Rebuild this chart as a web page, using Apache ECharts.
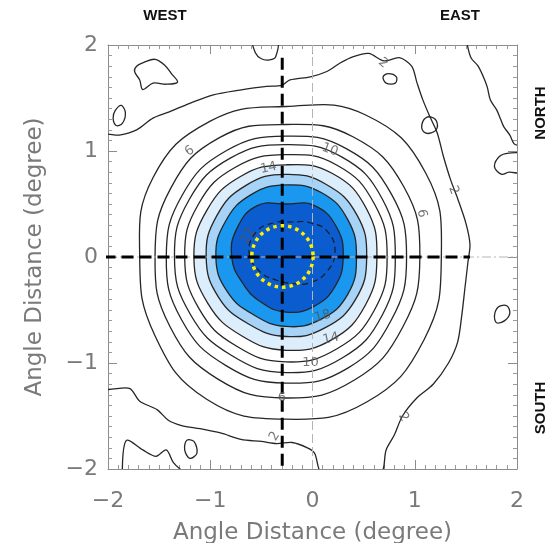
<!DOCTYPE html>
<html><head><meta charset="utf-8">
<script src="https://cdn.jsdelivr.net/npm/echarts@6/dist/echarts.min.js"></script>
<style>html,body{margin:0;padding:0;background:#fff}#c{width:549px;height:543px}</style>
</head><body><div id="c"></div>
<script>
// ---- data ----
const xTicks = [-2, -1, 0, 1, 2];
const yTicks = [-2, -1, 0, 1, 2];
const angles = [0, 30, 60, 90, 120, 150, 180, 210, 240, 270, 300, 330]; // degrees, counter-clockwise from east
const contourCenter = [-0.26, 0.0];
const r4  = [1.52, 1.58, 1.55, 1.42, 1.48, 1.50, 1.43, 1.48, 1.55, 1.53, 1.58, 1.56];
const r6  = [1.31, 1.33, 1.31, 1.25, 1.30, 1.30, 1.28, 1.31, 1.33, 1.33, 1.34, 1.32];
const r8  = [1.18, 1.19, 1.18, 1.14, 1.16, 1.17, 1.17, 1.18, 1.18, 1.19, 1.21, 1.19];
const r10 = [1.07, 1.09, 1.09, 1.06, 1.08, 1.09, 1.09, 1.08, 1.07, 1.09, 1.10, 1.09];
const r12 = [0.99, 1.00, 1.00, 0.965, 0.98, 0.99, 0.99, 0.98, 0.97, 0.99, 1.00, 1.00];
const r14 = [0.89, 0.91, 0.91, 0.87, 0.88, 0.89, 0.90, 0.88, 0.86, 0.88, 0.90, 0.90];
const r16 = [0.79, 0.80, 0.79, 0.78, 0.78, 0.78, 0.78, 0.76, 0.73, 0.75, 0.77, 0.79];
const r18 = [0.69, 0.70, 0.70, 0.68, 0.68, 0.68, 0.685, 0.66, 0.63, 0.655, 0.68, 0.70];
const r20 = [0.56, 0.57, 0.56, 0.50, 0.56, 0.55, 0.53, 0.49, 0.49, 0.52, 0.54, 0.555];
const center22 = [-0.2, 0.04];
const r22 = [0.42, 0.40, 0.33, 0.29, 0.33, 0.40, 0.42, 0.36, 0.30, 0.29, 0.33, 0.38];
const level2 = [[-2.05,1.14],[-1.89,1.15],[-1.72,1.20],[-1.56,1.31],[-1.40,1.37],[-1.20,1.45],[-0.97,1.53],[-0.71,1.575],[-0.45,1.61],[-0.30,1.62],[-0.22,1.67],[-0.02,1.70],[0.14,1.75],[0.27,1.83],[0.40,1.89],[0.55,1.92],[0.70,1.85],[0.85,1.88],[0.97,1.80],[1.02,1.65],[1.08,1.48],[1.15,1.32],[1.22,1.17],[1.28,0.95],[1.35,0.73],[1.42,0.55],[1.50,0.32],[1.54,0.12],[1.52,-0.05],[1.49,-0.30],[1.46,-0.55],[1.42,-0.80],[1.33,-1.00],[1.18,-1.20],[1.02,-1.33],[0.88,-1.50],[0.80,-1.68],[0.72,-1.82],[0.66,-2.05],[0.10,-2.05],[0.02,-1.85],[-0.05,-1.80],[-0.20,-1.75],[-0.35,-1.76],[-0.50,-1.74],[-0.70,-1.72],[-0.90,-1.66],[-1.10,-1.62],[-1.28,-1.59],[-1.41,-1.54],[-1.52,-1.44],[-1.69,-1.36],[-1.79,-1.24],[-2.05,-1.22]];
const islands = [
  [[-1.72,1.80],[-1.64,1.84],[-1.54,1.865],[-1.445,1.81],[-1.38,1.73],[-1.32,1.65],[-1.43,1.63],[-1.56,1.64],[-1.66,1.58],[-1.69,1.67],[-1.74,1.75]],
  [[-0.58,2.05],[-0.56,1.93],[-0.50,1.87],[-0.42,1.86],[-0.36,1.89],[-0.35,2.05]],
  [[-1.93,1.38],[-1.87,1.43],[-1.83,1.36],[-1.86,1.26],[-1.92,1.24],[-1.95,1.31]],
  [[1.07,1.25],[1.12,1.32],[1.20,1.30],[1.22,1.22],[1.16,1.17],[1.09,1.18]],
  [[1.78,0.85],[1.83,0.95],[1.92,0.98],[2.05,0.97],[2.05,0.80],[1.92,0.80],[1.85,0.78]],
  [[1.78,-0.55],[1.82,-0.47],[1.90,-0.46],[1.93,-0.53],[1.88,-0.60],[1.80,-0.62]],
  [[0.69,1.70],[0.74,1.73],[0.82,1.70],[0.81,1.64],[0.72,1.64]],
  [[-1.23,-1.73],[-1.16,-1.74],[-1.13,-1.85],[-1.20,-1.90],[-1.25,-1.82]]
];
const openPaths = [
  [[1.51,2.02],[1.55,1.88],[1.62,1.80],[1.68,1.68],[1.71,1.60],[1.74,1.48],[1.80,1.39],[1.84,1.30],[1.87,1.23],[1.93,1.15],[1.97,1.07],[2.02,1.05]],
  [[-1.86,-2.02],[-1.82,-1.73],[-1.66,-1.82],[-1.53,-1.88],[-1.43,-1.82],[-1.36,-1.94],[-1.27,-2.02]]
];
const contourLabels = [
  [-1.2, 1.0, '6', 35], [0.17, 1.01, '10', -20], [-0.43, 0.84, '14', 12], [-0.63, 0.2, '22', 60],
  [1.07, 0.41, '6', -80], [1.38, 0.63, '2', -70], [0.69, 1.83, '2', -40], [0.1, -0.56, '18', 15],
  [0.18, -0.77, '14', 12], [-0.02, -1.0, '10', 0], [-0.3, -1.33, '6', 0], [-0.37, -1.69, '2', 60],
  [0.89, -1.51, '2', -60]
];
const beamCenter = [-0.294, 0.005, 0.30]; // x, y, radius (degree)
const crossX = -0.296;
const hLine = [[-2.22, 0], [1.54, 0]];
const vLine = [[crossX, -1.97], [crossX, 1.93]];
const thinH = [[-2, 0], [2, 0]];
const thinV = [[0, -2], [0, 2]];

// ---- drawing ----
const fillColors = {14: '#dcedfb', 16: '#a6d3f6', 18: '#1a97ee', 20: '#0a5ccf'};
function ring(center, radii) {
  return radii.map((r, i) => {
    const a = angles[i] * Math.PI / 180;
    return [center[0] + r * Math.cos(a), center[1] + r * Math.sin(a)];
  });
}
function shapeSeries(pts, style, z, closed, smooth) {
  return {
    type: 'custom', coordinateSystem: 'cartesian2d', clip: true, silent: true, z: z,
    data: pts,
    renderItem: function (params, api) {
      if (params.dataIndex !== 0) return null;
      const p = pts.map(q => api.coord(q));
      return {type: closed ? 'polygon' : 'polyline', shape: {points: p, smooth: smooth}, style: style};
    }
  };
}
const series = [];
const rings = {4: r4, 6: r6, 8: r8, 10: r10, 12: r12, 14: r14, 16: r16, 18: r18, 20: r20};
const ringSmooth = 0.45;
[14, 16, 18, 20].forEach((lv, i) => {
  series.push(shapeSeries(ring(contourCenter, rings[lv]), {fill: fillColors[lv], stroke: null}, 1 + i, true, ringSmooth));
});
const lineStyle = {fill: null, stroke: '#262626', lineWidth: 1.3};
Object.keys(rings).forEach(lv => {
  series.push(shapeSeries(ring(contourCenter, rings[lv]), lineStyle, 6, true, ringSmooth));
});
series.push(shapeSeries(ring(center22, r22), {fill: null, stroke: '#1a1a1a', lineWidth: 1.2, lineDash: [6, 4]}, 6, true, ringSmooth));
series.push(shapeSeries(level2, lineStyle, 6, true, 0.3));
islands.forEach(p => series.push(shapeSeries(p, lineStyle, 6, true, 0.35)));
openPaths.forEach(p => series.push(shapeSeries(p, lineStyle, 6, false, 0.3)));

series.push({type: 'line', data: thinV, symbol: 'none', z: 7, silent: true,
  lineStyle: {color: '#b5b5b5', width: 1, type: [9, 4]}});
series.push({type: 'line', data: thinH, symbol: 'none', z: 7, silent: true,
  lineStyle: {color: '#b5b5b5', width: 1, type: [9, 3, 2, 3]}});
series.push({type: 'line', data: hLine, symbol: 'none', z: 8, silent: true, clip: false,
  lineStyle: {color: '#000', width: 3, type: [12, 6]}});
series.push({type: 'line', data: vLine, symbol: 'none', z: 8, silent: true,
  lineStyle: {color: '#000', width: 3, type: [12, 6]}});
series.push({
  type: 'custom', coordinateSystem: 'cartesian2d', z: 9, silent: true, data: [beamCenter],
  renderItem: function (params, api) {
    const c = api.coord([api.value(0), api.value(1)]);
    const r = api.size([api.value(2), 0])[0];
    return {type: 'circle', shape: {cx: c[0], cy: c[1], r: r},
      style: {fill: null, stroke: '#ffee00', lineWidth: 3.5, lineDash: [3.5, 4]}};
  }
});
series.push({
  type: 'scatter', symbolSize: 0, z: 10, silent: true,
  data: contourLabels.map(l => ({value: [l[0], l[1]], name: l[2], label: {rotate: l[3]}})),
  label: {show: true, position: 'inside', formatter: '{b}', color: '#555', fontSize: 13,
    fontFamily: 'DejaVu Sans'}
});

const fmt = v => (v < 0 ? '\u2212' + Math.abs(v) : String(v));
const axisBase = {
  type: 'value', interval: 1,
  axisLine: {show: true, onZero: false, lineStyle: {color: '#8c8c8c', width: 1}},
  axisTick: {show: true, inside: true, length: 9, lineStyle: {color: '#8c8c8c'}},
  minorTick: {show: true, splitNumber: 10, length: 4, lineStyle: {color: '#9a9a9a'}},
  splitLine: {show: false}, minorSplitLine: {show: false}
};
const labelStyle = {show: true, color: '#7a7a7a', fontSize: 22, fontFamily: 'DejaVu Sans', formatter: fmt};
const nameStyle = {color: '#7a7a7a', fontSize: 23, fontFamily: 'DejaVu Sans'};

const option = {
  animation: false,
  backgroundColor: '#fff',
  grid: {left: 108, right: 32, top: 45, bottom: 74, containLabel: false, outerBoundsMode: 'none'},
  xAxis: [
    Object.assign({}, axisBase, {min: xTicks[0], max: xTicks[xTicks.length - 1], position: 'bottom',
      axisLabel: Object.assign({}, labelStyle, {margin: 21}),
      name: 'Angle Distance (degree)', nameLocation: 'middle', nameGap: 53, nameTextStyle: nameStyle}),
    Object.assign({}, axisBase, {min: xTicks[0], max: xTicks[xTicks.length - 1], position: 'top', axisLabel: {show: false}})
  ],
  yAxis: [
    Object.assign({}, axisBase, {min: yTicks[0], max: yTicks[yTicks.length - 1], position: 'left',
      axisLabel: Object.assign({}, labelStyle, {margin: 10}),
      name: 'Angle Distance (degree)', nameLocation: 'middle', nameGap: 61, nameRotate: 90, nameTextStyle: nameStyle}),
    Object.assign({}, axisBase, {min: yTicks[0], max: yTicks[yTicks.length - 1], position: 'right', axisLabel: {show: false}})
  ],
  graphic: [
    {type: 'text', x: 165, y: 16, style: {text: 'WEST', fill: '#111', font: 'bold 15px "Liberation Sans"', align: 'center', verticalAlign: 'middle'}},
    {type: 'text', x: 460, y: 16, style: {text: 'EAST', fill: '#111', font: 'bold 15px "Liberation Sans"', align: 'center', verticalAlign: 'middle'}},
    {type: 'text', x: 541, y: 113, rotation: Math.PI / 2, style: {text: 'NORTH', fill: '#111', font: 'bold 15px "Liberation Sans"', align: 'center', verticalAlign: 'middle'}},
    {type: 'text', x: 541, y: 408, rotation: Math.PI / 2, style: {text: 'SOUTH', fill: '#111', font: 'bold 15px "Liberation Sans"', align: 'center', verticalAlign: 'middle'}}
  ],
  series: series
};
const chart = echarts.init(document.getElementById('c'));
chart.setOption(option);
</script>
</body></html>
